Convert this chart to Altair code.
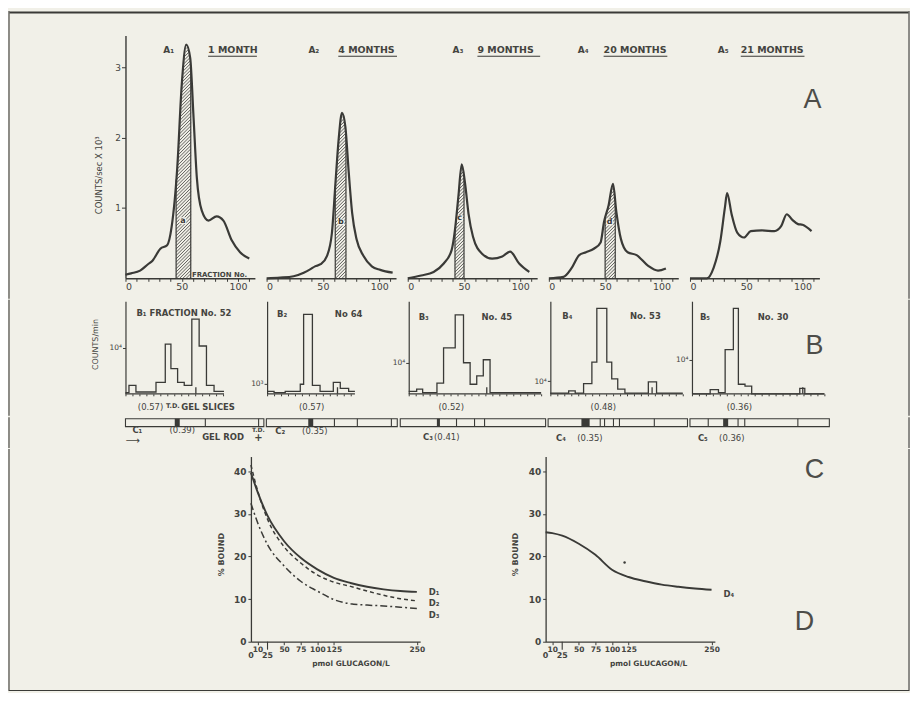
import altair as alt
import numpy as np
import pandas as pd

# ---------------- Row A: elution profiles (fraction No. vs counts/sec x 10^3) ----------------
A1_FRAC = [0, 5, 13, 20, 24, 31, 37, 41, 46, 50, 54, 57.5, 60.5, 63.4, 67.8, 73.7, 81, 87, 94.4, 101.8, 110]
A1_VAL = [0.05, 0.07, 0.11, 0.2, 0.25, 0.42, 0.47, 0.73, 1.57, 2.75, 3.32, 3.13, 2.28, 1.43, 0.96, 0.82, 0.88, 0.82, 0.54, 0.37, 0.28]
A2_FRAC = [0, 12, 24, 33, 39, 43, 48, 53.7, 58, 61, 64, 67, 70, 73, 76, 80, 86, 93.5, 101, 112]
A2_VAL = [0.0, 0.01, 0.03, 0.08, 0.13, 0.17, 0.2, 0.32, 0.64, 1.31, 1.97, 2.35, 2.15, 1.5, 0.93, 0.55, 0.32, 0.17, 0.12, 0.08]
A3_FRAC = [0, 12, 23, 32, 39, 42, 45, 48, 51, 54, 58, 66, 75, 84, 91, 99, 108]
A3_VAL = [0, 0.04, 0.09, 0.21, 0.4, 0.69, 1.16, 1.62, 1.34, 0.92, 0.59, 0.35, 0.28, 0.31, 0.38, 0.21, 0.09]
A4_FRAC = [0, 13, 20, 27, 33, 40, 46, 49, 53, 57, 60, 64, 70, 78, 88, 97, 104]
A4_VAL = [0, 0.02, 0.14, 0.33, 0.37, 0.42, 0.51, 0.8, 1.03, 1.34, 0.94, 0.56, 0.37, 0.33, 0.18, 0.11, 0.14]
A5_FRAC = [0, 15, 21, 27, 31, 33, 37, 42, 48, 54, 64, 75, 81, 86, 91, 96, 100, 108]
A5_VAL = [0, 0, 0.15, 0.53, 1.0, 1.21, 0.91, 0.65, 0.58, 0.67, 0.68, 0.67, 0.74, 0.91, 0.83, 0.77, 0.76, 0.67]
A_HATCH = [(45, 58), (61, 70.5), (42, 50), (50, 59), None]
A_HATCH_TAG = ["a", "b", "c", "d", None]
A_HATCH_TAG_POS = [(51, 0.82), (66, 0.8), (46, 0.85), (54, 0.8), None]
A_TAGS = ["A₁", "A₂", "A₃", "A₄", "A₅"]
A_AGES = ["1 MONTH", "4 MONTHS", "9 MONTHS", "20 MONTHS", "21 MONTHS"]

# ---------------- Row B: gel slice profiles (slice No. vs log10 counts/min) ----------------
B1_X = [0, 0.5, 1.5, 4.38, 5.71, 6.52, 7.48, 8.43, 9.52, 10.57, 11.62, 12.71, 14.14]
B1_Y = [3.25, 3.37, 3.26, 3.42, 4.06, 3.65, 3.42, 3.37, 4.48, 4.03, 3.37, 3.27, 3.27]
B2_X = [0, 1.0, 2.6, 4.76, 5.24, 6.5, 7.6, 9.5, 10.5, 11.7, 12.6]
B2_Y = [2.87, 2.85, 2.87, 2.99, 4.16, 2.97, 2.87, 3.02, 2.92, 2.87, 2.87]
B3_X = [0, 1.14, 2.0, 4.05, 5.0, 6.67, 7.86, 8.81, 9.76, 10.7, 11.67, 19]
B3_Y = [3.52, 3.56, 3.50, 3.66, 4.25, 4.80, 4.00, 3.64, 3.78, 4.05, 3.50, 3.50]
B4_X = [0, 2.63, 3.57, 4.77, 5.96, 6.67, 8.1, 8.81, 9.67, 10.7, 14.06, 15.24, 19]
B4_Y = [3.80, 3.84, 3.80, 3.96, 4.32, 5.22, 4.32, 4.04, 3.87, 3.80, 3.99, 3.80, 3.80]
B5_X = [0, 2.61, 3.8, 4.76, 5.94, 6.66, 7.61, 8.57, 15.47, 16.19, 19]
B5_Y = [3.43, 3.50, 3.45, 4.17, 4.86, 3.59, 3.56, 3.43, 3.52, 3.43, 3.43]
B_LO = [3.23, 2.83, 3.48, 3.79, 3.43]
B_TD = [10.1, 10.1, 11.2, 14.6, 15.9]
B_TICK = [4, 3, 4, 4, 4]
B_TICK_LABEL = ["10⁴", "10³", "10⁴", "10⁴", "10⁴"]
B_TAGS = ["B₁", "B₂", "B₃", "B₄", "B₅"]
B_FRACTION = ["FRACTION No. 52", "No 64", "No. 45", "No. 53", "No. 30"]
B_RF = ["(0.57)", "(0.57)", "(0.52)", "(0.48)", "(0.36)"]
B_RF_X = [3.6, 6.4, 6.1, 7.6, 6.8]

# ---------------- Row C: gel rods (position as % of rod length) ----------------
C_DARK = [[(35.6, 39.2)], [(32.0, 35.8)], [(25.2, 27.3)], [(23.9, 29.8)], [(23.8, 27.4)]]
C_LINES = [[57.7, 96.2], [52.0, 69.5, 95.5], [38.7, 51.1, 58.0], [37.4, 40.5, 46.9, 51.2, 76.2], [13.1, 34.5, 39.3, 77.4]]
C_TAGS = ["C₁", "C₂", "C₃", "C₄", "C₅"]
C_RF = ["(0.39)", "(0.35)", "(0.41)", "(0.35)", "(0.36)"]
C_TAG_X = [5, 6.8, 15.7, 5.7, 5.7]
C_RF_X = [41, 37, 32, 30, 30]

# ---------------- Row D: binding curves (% bound vs pmol glucagon/L) ----------------
D_PMOL = [0, 10, 25, 50, 75, 100, 125, 150, 175, 200, 225, 250]
D1_BOUND = [39.7, 35.2, 29.6, 23.6, 19.7, 17.0, 15.0, 13.8, 12.9, 12.3, 11.9, 11.7]
D2_BOUND = [41.5, 35.5, 28.8, 22.3, 18.5, 15.7, 14.0, 13.0, 11.9, 10.9, 10.1, 9.6]
D3_BOUND = [32.5, 28.0, 22.8, 17.8, 14.2, 11.9, 9.9, 8.9, 8.6, 8.4, 8.1, 7.8]
D4_BOUND = [25.7, 25.5, 24.9, 23.0, 20.4, 16.9, 15.2, 14.2, 13.4, 12.9, 12.5, 12.2]
D4_DOT_X = [119]
D4_DOT_Y = [18.6]

# ---------------- style ----------------
INK = "#3a3a37"
TXT = "#44443f"
BG = "#f1f0e8"
FONT = "DejaVu Sans"
BIG = "Liberation Sans"
ONE = pd.DataFrame({"k": [0]})

A_FRACS = [A1_FRAC, A2_FRAC, A3_FRAC, A4_FRAC, A5_FRAC]
A_VALS = [A1_VAL, A2_VAL, A3_VAL, A4_VAL, A5_VAL]
B_XS = [B1_X, B2_X, B3_X, B4_X, B5_X]
B_YS = [B1_Y, B2_Y, B3_Y, B4_Y, B5_Y]

A_W, A_H = 130, 244
A_XMAX, A_YMAX = 115, 3.45
KX, KY = A_W / A_XMAX, A_H / A_YMAX
A_TAG_X = [38, 42, 45, 29, 28]
A_AGE_X = [83, 72, 70, 55, 51]
A_AGE_W = [49, 59, 63, 64, 64]

B_W, B_H = 133, 93
B_XMAX, B_SPAN = 19, 1.55
B_TAG_X = [11, 10, 10, 12, 8]
B_NO_X = [None, 68, 73, 80, 66]
B_HEAD_Y = [12, 13, 16, 15, 16]

C_W = [139, 131.5, 146, 140, 140]
C_H = 8
C_LAB_Y = [11, 12, 18, 19, 19]

D_W, D_H = 170, 186
D_TITLE_X = [100, 103]

# frame: left/right edges relative to each row's first view; each row draws the stretch of
# the side lines that spans its own vertical band, so the stretches join up
FR_L, FR_R = -117, 787


def label(text, x, y, size=9, weight="bold", align="left", baseline="middle",
          color=TXT, font=FONT):
    return alt.Chart(ONE).mark_text(
        text=text, fontSize=size, fontWeight=weight, align=align, baseline=baseline,
        color=color, font=font, clip=False
    ).encode(x=x, y=y)


def frame(top, bottom, first=False, last=False):
    out = [
        alt.Chart(ONE).mark_rule(color=INK, strokeWidth=1.1, strokeCap="square", clip=False)
        .encode(x=alt.value(FR_L), y=alt.value(top), y2=alt.value(bottom)),
        alt.Chart(ONE).mark_rule(color=INK, strokeWidth=1.1, strokeCap="square", clip=False)
        .encode(x=alt.value(FR_R), y=alt.value(top), y2=alt.value(bottom)),
    ]
    if first:
        out.append(alt.Chart(ONE).mark_rule(color=INK, strokeWidth=2, clip=False)
                   .encode(x=alt.value(FR_L + 0.5), x2=alt.value(FR_R - 0.5), y=alt.value(top + 1)))
    if last:
        out.append(alt.Chart(ONE).mark_rule(color=INK, strokeWidth=1.1, clip=False)
                   .encode(x=alt.value(FR_L), x2=alt.value(FR_R), y=alt.value(bottom)))
    return out


def hatch_df(frac, val, x0, x1, gap_px=3.3):
    m = KY / KX
    ys = np.linspace(0, A_YMAX, 2500)
    rows = []
    c = x0 - m * A_YMAX
    step = gap_px / KX
    while c < x1:
        xs = c + m * ys
        ok = (xs >= x0) & (xs <= x1) & (ys <= np.interp(xs, frac, val))
        if ok.any():
            idx = np.where(ok)[0]
            rows.append({"x": xs[idx[0]], "y": ys[idx[0]], "x2": xs[idx[-1]], "y2": ys[idx[-1]]})
        c += step
    return pd.DataFrame(rows)


def a_panel(i):
    frac, val = A_FRACS[i], A_VALS[i]
    xs = alt.Scale(domain=[0, A_XMAX], nice=False, zero=False)
    ys = alt.Scale(domain=[0, A_YMAX], nice=False)
    xaxis = alt.Axis(values=list(range(0, 111, 10)),
                     labelExpr="datum.value % 50 == 0 ? datum.label : ''",
                     tickSize=3, labelFontSize=9.5, labelPadding=0, labelOverlap=False,
                     title=None, domainWidth=1.4)
    if i == 0:
        yaxis = alt.Axis(values=[1, 2, 3], tickSize=4, labelFontSize=9, labelPadding=1,
                         domainWidth=1.4, title="COUNTS/sec X 10³", titleFontSize=8.5,
                         titleFontWeight="normal", titleX=-22, titleY=140)
    else:
        yaxis = None

    def X(f):
        return alt.X(f, type="quantitative", scale=xs, axis=xaxis)

    def Y(f):
        return alt.Y(f, type="quantitative", scale=ys, axis=yaxis)

    def XD(v):
        return alt.XDatum(v, scale=xs, axis=xaxis)

    def YD(v):
        return alt.YDatum(v, scale=ys, axis=yaxis)

    layers = []
    if i == 0:
        layers += frame(-24, 264, first=True)
    if A_HATCH[i] is not None:
        x0, x1 = A_HATCH[i]
        hd = hatch_df(frac, val, x0, x1)
        layers.append(alt.Chart(hd).mark_rule(color=INK, strokeWidth=0.8)
                      .encode(x=X("x"), y=Y("y"), x2="x2:Q", y2="y2:Q"))
        ed = pd.DataFrame({"x": [x0, x1], "y": [0, 0],
                           "y2": [float(np.interp(x0, frac, val)), float(np.interp(x1, frac, val))]})
        layers.append(alt.Chart(ed).mark_rule(color=INK, strokeWidth=1.2)
                      .encode(x=X("x"), y=Y("y"), y2="y2:Q"))
        tx, ty = A_HATCH_TAG_POS[i]
        layers.append(alt.Chart(ONE).mark_square(size=45, color=BG, opacity=1)
                      .encode(x=XD(tx), y=YD(ty)))
        layers.append(alt.Chart(ONE).mark_text(text=A_HATCH_TAG[i], fontSize=8, fontWeight="bold",
                                               color=INK, font=FONT)
                      .encode(x=XD(tx), y=YD(ty)))
    df = pd.DataFrame({"frac": frac, "val": val})
    layers.append(alt.Chart(df).mark_line(color=INK, strokeWidth=2.2, interpolate="monotone")
                  .encode(x=X("frac"), y=Y("val")))
    layers.append(label(A_TAGS[i], alt.value(A_TAG_X[i]), alt.value(15), size=9))
    layers.append(label(A_AGES[i], alt.value(A_AGE_X[i]), alt.value(15), size=9.5))
    layers.append(alt.Chart(ONE).mark_rule(color=INK, strokeWidth=1.1, clip=False)
                  .encode(x=alt.value(A_AGE_X[i]), x2=alt.value(A_AGE_X[i] + A_AGE_W[i]), y=alt.value(21)))
    if i == 0:
        layers.append(alt.Chart(ONE).mark_text(text="FRACTION No.", fontSize=7, fontWeight="bold",
                                               color=TXT, font=FONT, align="left", baseline="bottom")
                      .encode(x=XD(59), y=YD(0.01)))
    if i == 4:
        layers.append(label("A", alt.value(123), alt.value(65), size=27, weight="normal",
                            align="center", color="#4d4d49", font=BIG))
    return alt.layer(*layers).properties(width=A_W, height=A_H)


def b_panel(i):
    bx, by, lo = B_XS[i], B_YS[i], B_LO[i]
    xs = alt.Scale(domain=[0, B_XMAX], nice=False, zero=False)
    ys = alt.Scale(domain=[lo, lo + B_SPAN], nice=False, zero=False)
    xend = bx[-1]
    xaxis = alt.Axis(values=list(range(0, int(xend) + 1)), labels=False, domain=False,
                     tickSize=2, title=None)
    yopts = dict(values=[B_TICK[i]], labelExpr="'" + B_TICK_LABEL[i] + "'", tickSize=3,
                 labelFontSize=7.5, labelPadding=1, domainWidth=1.2)
    if i == 0:
        yopts.update(title="COUNTS/min", titleFontSize=8, titleFontWeight="normal",
                     titleX=-26, titleY=43)
    else:
        yopts.update(title=None)
    yaxis = alt.Axis(**yopts)

    def X(f):
        return alt.X(f, type="quantitative", scale=xs, axis=xaxis)

    def Y(f):
        return alt.Y(f, type="quantitative", scale=ys, axis=yaxis)

    def XD(v):
        return alt.XDatum(v, scale=xs, axis=xaxis)

    layers = []
    if i == 0:
        layers += frame(-1, 114.5)
    base = pd.DataFrame({"x": [0], "x2": [xend], "y": [lo]})
    layers.append(alt.Chart(base).mark_rule(color=INK, strokeWidth=1.3)
                  .encode(x=X("x"), x2="x2:Q", y=Y("y")))
    df = pd.DataFrame({"slice": bx, "logc": by})
    layers.append(alt.Chart(df).mark_line(color=INK, strokeWidth=1.3, interpolate="step-after")
                  .encode(x=X("slice"), y=Y("logc")))
    td = pd.DataFrame({"x": [B_TD[i]], "y": [lo], "y2": [lo + 0.11]})
    layers.append(alt.Chart(td).mark_rule(color=INK, strokeWidth=1.3)
                  .encode(x=X("x"), y=Y("y"), y2="y2:Q"))
    if i == 0:
        layers.append(label(B_TAGS[i] + " " + B_FRACTION[i], alt.value(B_TAG_X[i]), alt.value(B_HEAD_Y[i]), size=8.5))
        layers.append(label("T.D.", XD(6.8), alt.value(105), size=6.5, align="center"))
        layers.append(label("GEL SLICES", XD(8.0), alt.value(106), size=8.5))
    else:
        layers.append(label(B_TAGS[i], alt.value(B_TAG_X[i]), alt.value(B_HEAD_Y[i]), size=8.5))
        layers.append(label(B_FRACTION[i], alt.value(B_NO_X[i]), alt.value(B_HEAD_Y[i]), size=8.5))
    layers.append(label(B_RF[i], XD(B_RF_X[i]), alt.value(106), size=8.5, weight="normal", align="center"))
    if i == 4:
        layers.append(label("B", alt.value(123), alt.value(45), size=27, weight="normal",
                            align="center", color="#4d4d49", font=BIG))
    return alt.layer(*layers).properties(width=B_W, height=B_H)


def c_panel(i):
    xs = alt.Scale(domain=[0, 100], nice=False, zero=False)
    ys = alt.Scale(domain=[0, 1], nice=False)

    def X(f):
        return alt.X(f, type="quantitative", scale=xs, axis=None)

    def Y(f):
        return alt.Y(f, type="quantitative", scale=ys, axis=None)

    def XD(v):
        return alt.XDatum(v, scale=xs, axis=None)

    rod = pd.DataFrame({"s": [0], "e": [100], "b": [0], "t": [1]})
    dark = pd.DataFrame({"s": [d[0] for d in C_DARK[i]], "e": [d[1] for d in C_DARK[i]],
                         "b": 0, "t": 1})
    lines = pd.DataFrame({"x": C_LINES[i], "b": 0, "t": 1})
    layers = []
    if i == 0:
        layers += frame(-1, 29)
    layers += [
        alt.Chart(rod).mark_rect(fill=BG, stroke=INK, strokeWidth=1.1)
        .encode(x=X("s"), x2="e:Q", y=Y("b"), y2="t:Q"),
        alt.Chart(dark).mark_rect(fill=INK)
        .encode(x=X("s"), x2="e:Q", y=Y("b"), y2="t:Q"),
        alt.Chart(lines).mark_rule(color=INK, strokeWidth=1.1)
        .encode(x=X("x"), y=Y("b"), y2="t:Q"),
        label(C_TAGS[i], XD(C_TAG_X[i]), alt.value(C_LAB_Y[i]), size=8.5),
        label(C_RF[i], XD(C_RF_X[i]), alt.value(C_LAB_Y[i]), size=8.5, weight="normal", align="center"),
    ]
    if i == 0:
        layers.append(label("⟶", XD(0), alt.value(22), size=10, weight="normal"))
        layers.append(label("GEL ROD", XD(55.4), alt.value(18), size=8.5))
        layers.append(label("T.D.", XD(96), alt.value(11), size=6, align="center"))
        layers.append(label("+", XD(96), alt.value(19), size=10, align="center"))
    return alt.layer(*layers).properties(width=C_W[i], height=C_H)


def d_panel(j):
    xs = alt.Scale(domain=[0, 255], nice=False, zero=False)
    ys = alt.Scale(domain=[0, 43.5], nice=False, zero=False)
    xaxis = alt.Axis(values=[10, 50, 75, 100, 125, 250], tickSize=3, labelFontSize=7.5,
                     labelFontWeight="bold", labelPadding=1, labelOverlap=False,
                     title="pmol GLUCAGON/L", titleFontSize=7.5, titleFontWeight="bold",
                     titleX=D_TITLE_X[j], titleY=22, titleBaseline="middle", domainWidth=1.3)
    yaxis = alt.Axis(values=[0, 10, 20, 30, 40], tickSize=3, labelFontSize=9,
                     labelFontWeight="bold", labelPadding=2, title="% BOUND",
                     titleFontSize=8, titleFontWeight="bold", titleX=-26, titleY=98,
                     domainWidth=1.3)

    def X(f):
        return alt.X(f, type="quantitative", scale=xs, axis=xaxis)

    def Y(f):
        return alt.Y(f, type="quantitative", scale=ys, axis=yaxis)

    def XD(v):
        return alt.XDatum(v, scale=xs, axis=xaxis)

    def YD(v):
        return alt.YDatum(v, scale=ys, axis=yaxis)

    layers = []
    if j == 0:
        series = [(D1_BOUND, [1, 0], 1.9, "D₁", 11.6),
                  (D2_BOUND, [4, 3], 1.5, "D₂", 9.0),
                  (D3_BOUND, [7, 3, 2, 3], 1.5, "D₃", 6.2)]
    else:
        series = [(D4_BOUND, [1, 0], 1.9, "D₄", 11.2)]
    for vals, dash, sw, name, ly in series:
        df = pd.DataFrame({"pmol": D_PMOL, "bound": vals})
        mk = dict(color=INK, strokeWidth=sw, interpolate="monotone")
        if dash != [1, 0]:
            mk["strokeDash"] = dash
        layers.append(alt.Chart(df).mark_line(**mk).encode(x=X("pmol"), y=Y("bound")))
        layers.append(label(name, XD(268), YD(ly), size=8.5))
    if j == 1:
        dot = pd.DataFrame({"pmol": D4_DOT_X, "bound": D4_DOT_Y})
        layers.append(alt.Chart(dot).mark_circle(size=6, color=INK, opacity=1)
                      .encode(x=X("pmol"), y=Y("bound")))
        layers.append(label("C", alt.value(270), alt.value(13.5), size=27, weight="normal",
                            align="center", color="#4d4d49", font=BIG))
        layers.append(label("D", alt.value(260), alt.value(166), size=27, weight="normal",
                            align="center", color="#4d4d49", font=BIG))
    layers.append(alt.Chart(ONE).mark_rule(color=INK, strokeWidth=1.1, clip=False)
                  .encode(x=XD(25), y=alt.value(D_H), y2=alt.value(D_H + 8)))
    layers.append(label("0", XD(0), alt.value(D_H + 14), size=8, align="center"))
    layers.append(label("25", XD(25), alt.value(D_H + 14), size=8, align="center"))
    return alt.layer(*layers).properties(width=D_W, height=D_H)


def spacer(w, h, extra=None):
    pt = (alt.Chart(ONE).mark_point(opacity=0)
          .encode(x=alt.value(0), y=alt.value(0)))
    layers = [pt] + (extra or [])
    return alt.layer(*layers).properties(width=w, height=h)


row_a = alt.hconcat(*[a_panel(i) for i in range(5)], spacing=11.75, bounds="flush")
row_b = alt.hconcat(*[b_panel(i) for i in range(5)], spacing=9.25, bounds="flush")
row_c = alt.hconcat(*[c_panel(i) for i in range(5)], spacing=2.5, bounds="flush")
row_d = alt.hconcat(spacer(125.7, D_H, frame(-7, 235, last=True)), d_panel(0),
                    spacer(126, D_H), d_panel(1), spacing=0, bounds="flush")

chart = alt.vconcat(row_a, row_b, row_c, row_d, spacing=0).properties(
    background=BG, padding={"left": 0, "top": 1, "right": 0, "bottom": 0}
)
chart = chart.configure_view(stroke=None).configure_axis(
    grid=False, labelFont=FONT, titleFont=FONT, domainColor=INK, tickColor=INK,
    labelColor=TXT, titleColor=TXT, tickWidth=1
)

chart.save("out.html", embed_options={"renderer": "svg", "actions": False})
